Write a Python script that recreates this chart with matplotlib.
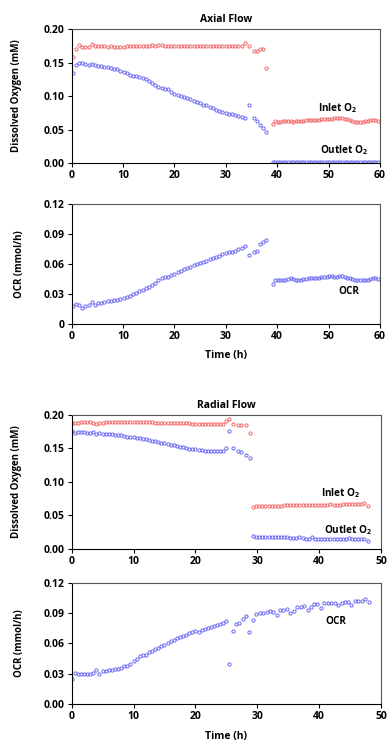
import matplotlib
matplotlib.use('Agg')
import matplotlib.pyplot as plt

plt.rcParams['font.family'] = ['Open Sans', 'DejaVu Sans']
plt.rcParams['font.weight'] = 'bold'
plt.rcParams['mathtext.fontset'] = 'custom'
plt.rcParams['mathtext.bf'] = 'Open Sans:bold'
plt.rcParams['mathtext.rm'] = 'Open Sans:bold'
plt.rcParams['mathtext.default'] = 'bf'

# Axial flow reactor, sampling times (h)
axial_time = [0.2, 0.8, 1.4, 2.1, 2.7, 3.3, 3.9, 4.5, 5.2, 5.8,
              6.4, 7.0, 7.6, 8.3, 8.9, 9.5, 10.1, 10.7, 11.4, 12.0,
              12.6, 13.2, 13.8, 14.5, 15.1, 15.7, 16.3, 16.9, 17.6, 18.2,
              18.8, 19.4, 20.0, 20.7, 21.3, 21.9, 22.5, 23.1, 23.8, 24.4,
              25.0, 25.6, 26.2, 26.9, 27.5, 28.1, 28.7, 29.3, 30.0, 30.6,
              31.2, 31.8, 32.4, 33.1, 33.7,
              34.6, 35.4, 36.0, 36.6, 37.2, 37.9,
              39.1, 39.6, 40.1, 40.6, 41.1, 41.6, 42.1, 42.6, 43.1, 43.6,
              44.1, 44.6, 45.1, 45.6, 46.1, 46.6, 47.1, 47.6, 48.1, 48.6,
              49.1, 49.6, 50.1, 50.6, 51.1, 51.6, 52.1, 52.6, 53.1, 53.6,
              54.1, 54.6, 55.1, 55.6, 56.1, 56.6, 57.1, 57.6, 58.1, 58.6,
              59.1, 59.6]

axial_inlet = [0.159, 0.170, 0.176, 0.173, 0.173, 0.173, 0.178, 0.174, 0.174, 0.174,
               0.174, 0.173, 0.174, 0.173, 0.173, 0.173, 0.173, 0.174, 0.174, 0.175,
               0.175, 0.175, 0.174, 0.175, 0.175, 0.176, 0.175, 0.176, 0.176, 0.175,
               0.175, 0.175, 0.175, 0.175, 0.175, 0.175, 0.175, 0.175, 0.175, 0.175,
               0.175, 0.175, 0.174, 0.174, 0.175, 0.174, 0.174, 0.174, 0.174, 0.175,
               0.174, 0.174, 0.174, 0.174, 0.179,
               0.175, 0.168, 0.168, 0.170, 0.170, 0.142,
               0.059, 0.063, 0.062, 0.062, 0.063, 0.063, 0.063, 0.063, 0.062, 0.063,
               0.063, 0.063, 0.063, 0.064, 0.064, 0.064, 0.064, 0.065, 0.065, 0.066,
               0.066, 0.066, 0.066, 0.066, 0.067, 0.067, 0.067, 0.067, 0.066, 0.066,
               0.065, 0.063, 0.062, 0.062, 0.062, 0.062, 0.063, 0.063, 0.064, 0.065,
               0.064, 0.063]

axial_outlet = [0.134, 0.146, 0.150, 0.150, 0.148, 0.146, 0.148, 0.147, 0.145, 0.145,
                0.144, 0.143, 0.142, 0.141, 0.140, 0.138, 0.136, 0.134, 0.132, 0.130,
                0.130, 0.129, 0.127, 0.125, 0.122, 0.120, 0.117, 0.113, 0.112, 0.111,
                0.110, 0.106, 0.103, 0.102, 0.100, 0.099, 0.097, 0.095, 0.093, 0.091,
                0.089, 0.087, 0.086, 0.084, 0.082, 0.080, 0.078, 0.077, 0.075, 0.074,
                0.073, 0.072, 0.071, 0.069, 0.068,
                0.086, 0.068, 0.063, 0.057, 0.052, 0.047,
                0.001, 0.001, 0.001, 0.001, 0.001, 0.001, 0.001, 0.001, 0.001, 0.001,
                0.001, 0.001, 0.001, 0.001, 0.001, 0.001, 0.001, 0.001, 0.001, 0.001,
                0.001, 0.001, 0.001, 0.001, 0.001, 0.001, 0.001, 0.001, 0.001, 0.001,
                0.001, 0.001, 0.001, 0.001, 0.001, 0.001, 0.001, 0.001, 0.001, 0.001,
                0.001, 0.001]

axial_ocr = [0.018, 0.020, 0.019, 0.016, 0.018, 0.019, 0.022, 0.019, 0.021, 0.021,
             0.022, 0.023, 0.023, 0.024, 0.024, 0.025, 0.026, 0.027, 0.028, 0.030,
             0.031, 0.033, 0.034, 0.036, 0.037, 0.039, 0.041, 0.044, 0.046, 0.047,
             0.047, 0.049, 0.050, 0.052, 0.053, 0.055, 0.056, 0.057, 0.059, 0.060,
             0.061, 0.062, 0.063, 0.065, 0.066, 0.067, 0.068, 0.070, 0.071, 0.072,
             0.072, 0.073, 0.075, 0.076, 0.078,
             0.069, 0.072, 0.073, 0.080, 0.082, 0.084,
             0.040, 0.044, 0.044, 0.044, 0.044, 0.044, 0.045, 0.046, 0.045, 0.044,
             0.044, 0.044, 0.045, 0.045, 0.046, 0.046, 0.046, 0.046, 0.046, 0.047,
             0.047, 0.047, 0.048, 0.048, 0.047, 0.047, 0.048, 0.048, 0.047, 0.046,
             0.046, 0.045, 0.044, 0.044, 0.044, 0.044, 0.044, 0.044, 0.045, 0.046,
             0.046, 0.045]

# Radial flow reactor
radial_time = [0.0, 0.5, 1.0, 1.5, 2.0, 2.5, 3.0, 3.5, 4.0, 4.5,
               5.0, 5.5, 6.0, 6.5, 7.0, 7.5, 8.0, 8.5, 9.0, 9.5,
               10.0, 10.5, 11.0, 11.5, 12.0, 12.5, 13.0, 13.5, 14.0, 14.5,
               15.0, 15.5, 16.0, 16.5, 17.0, 17.5, 18.0, 18.5, 19.0, 19.5,
               20.0, 20.5, 21.0, 21.5, 22.0, 22.5, 23.0, 23.5, 24.0, 24.5,
               24.9, 25.5, 26.1, 26.8, 27.4, 28.2, 28.8,
               29.3, 29.8, 30.3, 30.8, 31.3, 31.8, 32.3, 32.8, 33.3, 33.8,
               34.3, 34.8, 35.3, 35.8, 36.3, 36.8, 37.3, 37.8, 38.3, 38.8,
               39.3, 39.8, 40.3, 40.8, 41.3, 41.8, 42.3, 42.8, 43.3, 43.8,
               44.3, 44.8, 45.3, 45.8, 46.3, 46.8, 47.3, 47.8]

radial_inlet = [0.187, 0.187, 0.187, 0.189, 0.189, 0.189, 0.189, 0.187, 0.186, 0.187,
                0.188, 0.189, 0.189, 0.189, 0.189, 0.189, 0.189, 0.189, 0.189, 0.189,
                0.189, 0.189, 0.189, 0.189, 0.189, 0.189, 0.189, 0.188, 0.188, 0.188,
                0.188, 0.188, 0.188, 0.187, 0.187, 0.187, 0.187, 0.187, 0.187, 0.186,
                0.186, 0.186, 0.186, 0.186, 0.186, 0.186, 0.186, 0.186, 0.186, 0.186,
                0.191, 0.194, 0.186, 0.185, 0.185, 0.185, 0.172,
                0.062, 0.063, 0.063, 0.063, 0.063, 0.063, 0.064, 0.064, 0.064, 0.064,
                0.065, 0.065, 0.065, 0.065, 0.065, 0.065, 0.065, 0.065, 0.065, 0.065,
                0.065, 0.065, 0.065, 0.065, 0.065, 0.066, 0.065, 0.065, 0.065, 0.066,
                0.066, 0.066, 0.066, 0.066, 0.066, 0.066, 0.068, 0.063]

radial_outlet = [0.175, 0.173, 0.174, 0.174, 0.174, 0.172, 0.172, 0.174, 0.171, 0.172,
                 0.171, 0.171, 0.171, 0.171, 0.170, 0.170, 0.170, 0.168, 0.167, 0.166,
                 0.166, 0.165, 0.165, 0.164, 0.163, 0.162, 0.161, 0.160, 0.159, 0.158,
                 0.157, 0.156, 0.155, 0.154, 0.153, 0.152, 0.151, 0.150, 0.149, 0.149,
                 0.148, 0.147, 0.147, 0.146, 0.146, 0.146, 0.145, 0.145, 0.145, 0.146,
                 0.150, 0.175, 0.150, 0.146, 0.144, 0.140, 0.136,
                 0.019, 0.018, 0.018, 0.017, 0.017, 0.017, 0.018, 0.018, 0.017, 0.017,
                 0.018, 0.018, 0.016, 0.016, 0.016, 0.018, 0.016, 0.015, 0.015, 0.017,
                 0.015, 0.015, 0.014, 0.014, 0.015, 0.014, 0.014, 0.015, 0.015, 0.014,
                 0.014, 0.016, 0.014, 0.014, 0.014, 0.014, 0.015, 0.011]

radial_ocr_time = [0.0, 0.5, 1.0, 1.5, 2.0, 2.5, 3.0, 3.5, 4.0, 4.5,
                   5.0, 5.5, 6.0, 6.5, 7.0, 7.5, 8.0, 8.5, 9.0, 9.5,
                   10.0, 10.5, 11.0, 11.5, 12.0, 12.5, 13.0, 13.5, 14.0, 14.5,
                   15.0, 15.5, 16.0, 16.5, 17.0, 17.5, 18.0, 18.5, 19.0, 19.5,
                   20.0, 20.5, 21.0, 21.5, 22.0, 22.5, 23.0, 23.5, 24.0, 24.5,
                   24.9, 25.5, 26.0, 26.6, 27.1, 27.7, 28.2, 28.7, 29.3, 29.8,
                   30.4, 30.9, 31.5, 32.0, 32.6, 33.1, 33.7, 34.2, 34.8, 35.3,
                   35.9, 36.4, 37.0, 37.5, 38.1, 38.6, 39.2, 39.7, 40.3, 40.8,
                   41.4, 41.9, 42.5, 43.0, 43.6, 44.1, 44.7, 45.2, 45.8, 46.3,
                   46.9, 47.4, 48.0]

radial_ocr = [0.025, 0.031, 0.030, 0.030, 0.030, 0.030, 0.030, 0.031, 0.034, 0.030,
              0.033, 0.033, 0.034, 0.034, 0.035, 0.035, 0.036, 0.038, 0.038, 0.040,
              0.043, 0.044, 0.047, 0.048, 0.048, 0.051, 0.052, 0.054, 0.055, 0.057,
              0.058, 0.060, 0.062, 0.063, 0.065, 0.066, 0.067, 0.068, 0.070, 0.071,
              0.072, 0.071, 0.073, 0.074, 0.075, 0.076, 0.077, 0.078, 0.079, 0.080,
              0.082, 0.040, 0.072, 0.079, 0.080, 0.084, 0.087, 0.071, 0.083, 0.089,
              0.090, 0.090, 0.091, 0.092, 0.091, 0.088, 0.093, 0.093, 0.094, 0.090,
              0.092, 0.096, 0.096, 0.097, 0.093, 0.096, 0.099, 0.099, 0.095, 0.100,
              0.100, 0.100, 0.100, 0.098, 0.100, 0.101, 0.101, 0.098, 0.102, 0.102,
              0.102, 0.104, 0.101]

RED = '#F06A6A'
BLUE = '#6A6AF0'
FS = 7.5


def scatter(ax, x, y, color):
    ax.plot(x, y, linestyle='none', marker='o', markersize=2.3,
            markerfacecolor='none', markeredgecolor=color, markeredgewidth=0.7)


def style(ax, xmax, ymax, yticks, ylabels, ylabel, ylx):
    ax.set_xlim(0, xmax)
    ax.set_ylim(0, ymax)
    ax.set_xticks(range(0, xmax + 1, 10))
    ax.set_yticks(yticks)
    ax.set_yticklabels(ylabels)
    ax.tick_params(labelsize=FS, length=3, width=0.8, direction='out', pad=2)
    for lab in ax.get_xticklabels() + ax.get_yticklabels():
        lab.set_fontweight('bold')
    for side in ['top', 'right']:
        ax.spines[side].set_color('#555555')
        ax.spines[side].set_linewidth(0.8)
    for side in ['left', 'bottom']:
        ax.spines[side].set_color('black')
        ax.spines[side].set_linewidth(0.8)
    ax.set_ylabel(ylabel, fontsize=7, fontweight='bold')
    ax.yaxis.set_label_coords(ylx, 0.5)


fig = plt.figure(figsize=(3.87, 7.45), dpi=100)

# Axial flow - dissolved oxygen
ax1 = fig.add_axes([0.185, 0.781, 0.797, 0.180])
scatter(ax1, axial_time, axial_inlet, RED)
scatter(ax1, axial_time, axial_outlet, BLUE)
style(ax1, 60, 0.20, [0, 0.05, 0.10, 0.15, 0.20],
      ['0.00', '0.05', '0.10', '0.15', '0.20'], 'Dissolved Oxygen (mM)', -0.161)
ax1.set_title('Axial Flow', fontsize=7.5, fontweight='bold', pad=5)
ax1.text(51.8, 0.082, 'Inlet O$_2$', fontsize=7.2, fontweight='bold', ha='center', va='center')
ax1.text(53.0, 0.019, 'Outlet O$_2$', fontsize=7.2, fontweight='bold', ha='center', va='center')

# Axial flow - OCR
ax2 = fig.add_axes([0.185, 0.565, 0.797, 0.161])
scatter(ax2, axial_time, axial_ocr, BLUE)
style(ax2, 60, 0.12, [0, 0.03, 0.06, 0.09, 0.12],
      ['0', '0.03', '0.06', '0.09', '0.12'], 'OCR (mmol/h)', -0.152)
ax2.text(53.9, 0.0325, 'OCR', fontsize=7.2, fontweight='bold', ha='center', va='center')
ax2.set_xlabel('Time (h)', fontsize=FS, fontweight='bold')
ax2.xaxis.set_label_coords(0.5, -0.22)

# Radial flow - dissolved oxygen
ax3 = fig.add_axes([0.185, 0.2635, 0.800, 0.180])
scatter(ax3, radial_time, radial_inlet, RED)
scatter(ax3, radial_time, radial_outlet, BLUE)
style(ax3, 50, 0.20, [0, 0.05, 0.10, 0.15, 0.20],
      ['0.00', '0.05', '0.10', '0.15', '0.20'], 'Dissolved Oxygen (mM)', -0.161)
ax3.set_title('Radial Flow', fontsize=7.5, fontweight='bold', pad=5)
ax3.text(43.4, 0.083, 'Inlet O$_2$', fontsize=7.2, fontweight='bold', ha='center', va='center')
ax3.text(44.7, 0.028, 'Outlet O$_2$', fontsize=7.2, fontweight='bold', ha='center', va='center')

# Radial flow - OCR
ax4 = fig.add_axes([0.185, 0.055, 0.800, 0.163])
scatter(ax4, radial_ocr_time, radial_ocr, BLUE)
style(ax4, 50, 0.12, [0, 0.03, 0.06, 0.09, 0.12],
      ['0.00', '0.03', '0.06', '0.09', '0.12'], 'OCR (mmol/h)', -0.152)
ax4.text(42.6, 0.0814, 'OCR', fontsize=7.2, fontweight='bold', ha='center', va='center')
ax4.set_xlabel('Time (h)', fontsize=FS, fontweight='bold')
ax4.xaxis.set_label_coords(0.5, -0.22)

fig.savefig('out.png', dpi=100)
